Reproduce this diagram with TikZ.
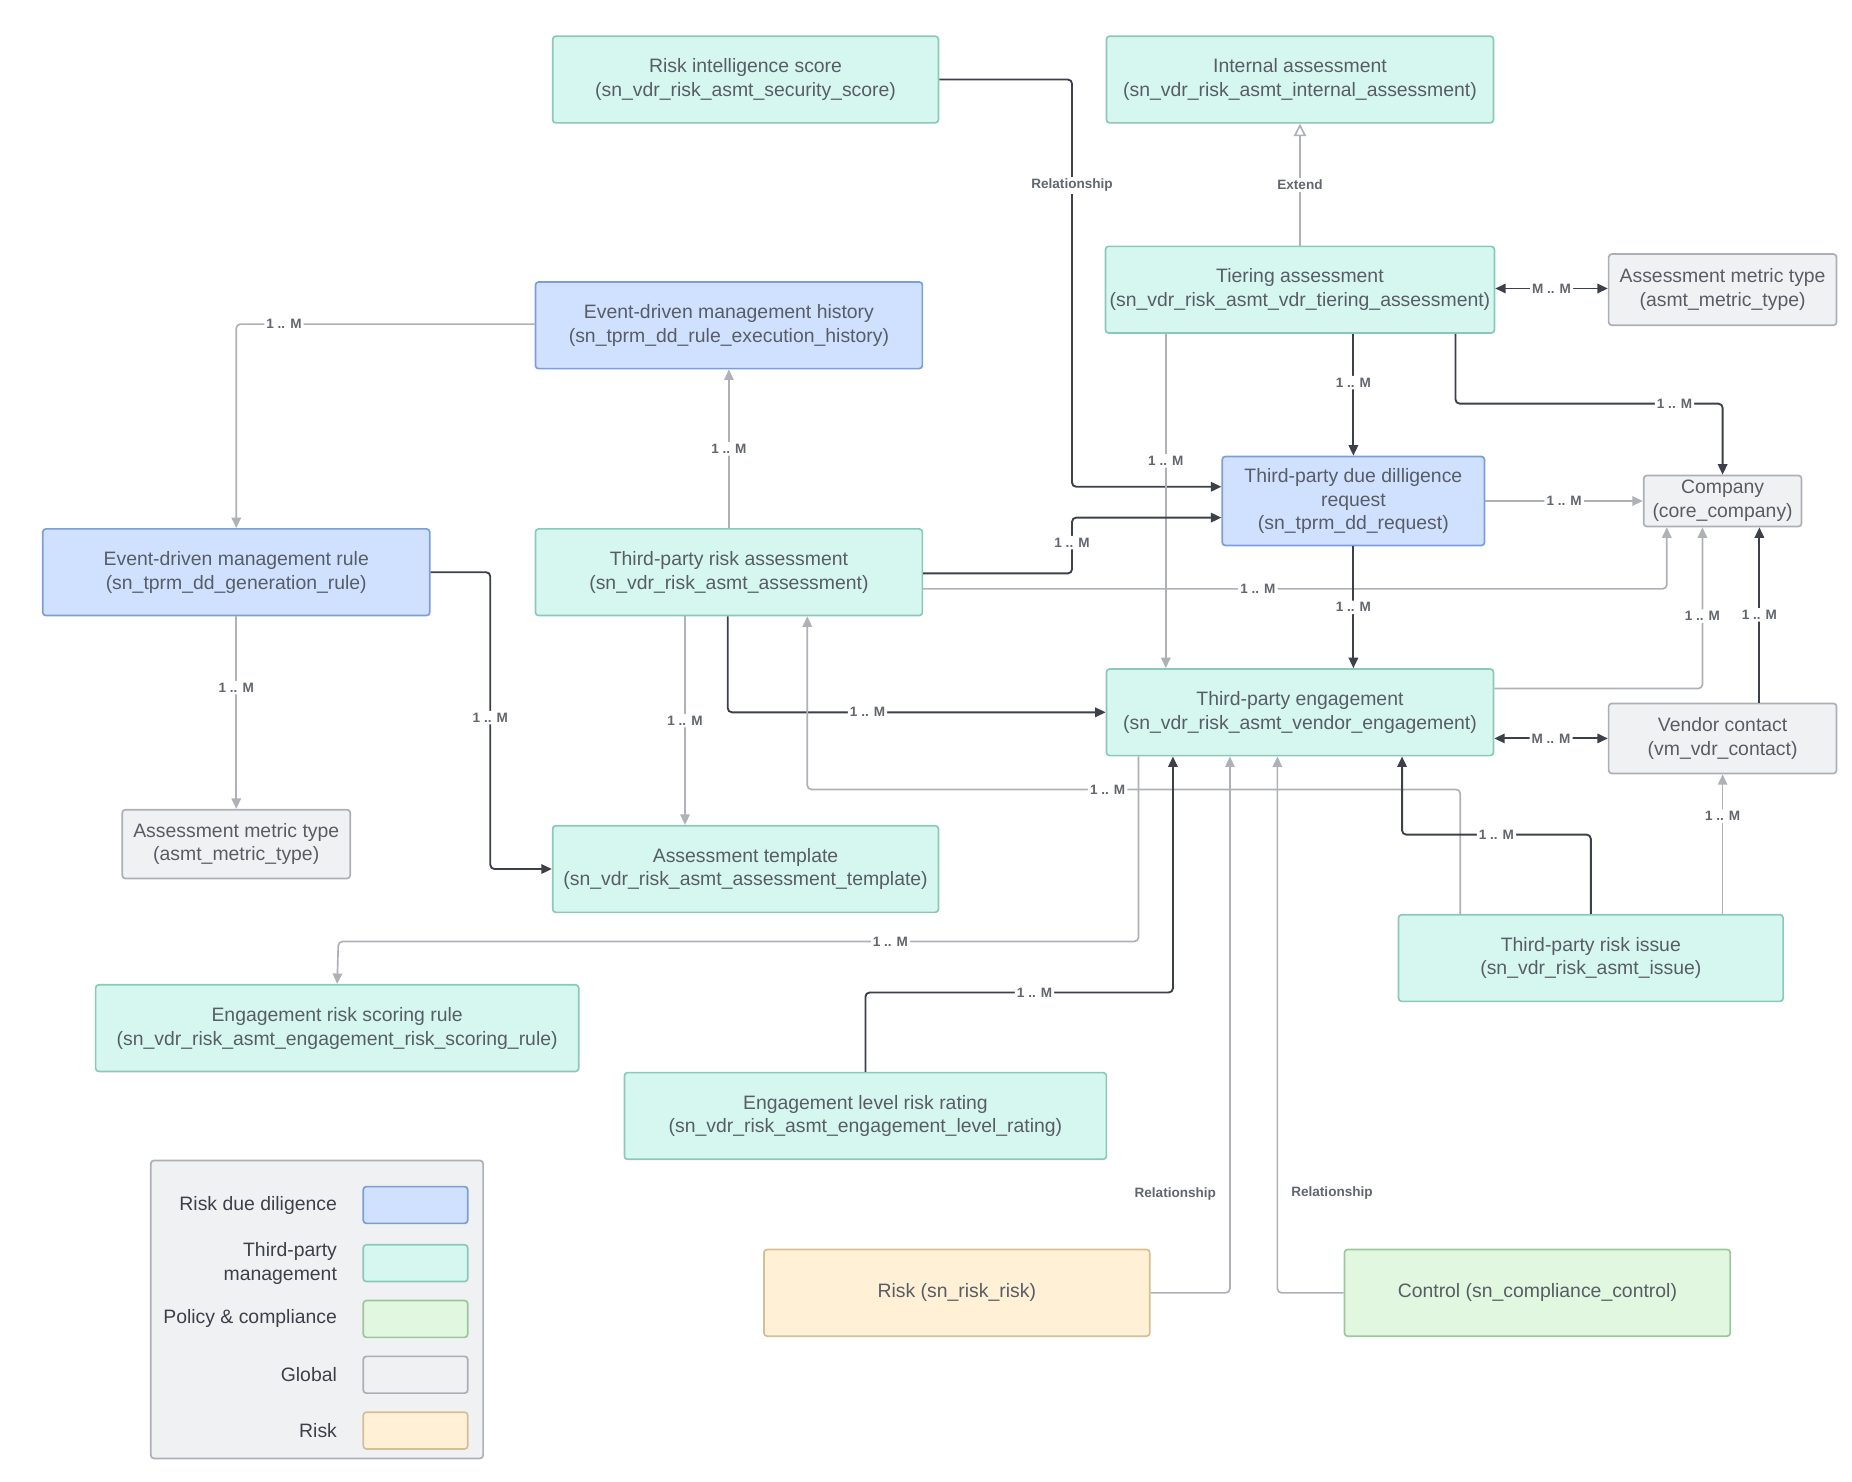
\documentclass[tikz,border=0pt]{standalone}
\usepackage{fontspec}
\setmainfont{Liberation Sans}
\usetikzlibrary{arrows.meta,positioning}
\definecolor{tpmfill}{HTML}{D5F7F0}
\definecolor{tpmdraw}{HTML}{8CC8BA}
\definecolor{rddfill}{HTML}{CFE1FF}
\definecolor{rdddraw}{HTML}{7C9ED6}
\definecolor{glbfill}{HTML}{F0F1F3}
\definecolor{glbdraw}{HTML}{ACAFB5}
\definecolor{rskfill}{HTML}{FFF0D6}
\definecolor{rskdraw}{HTML}{D6BE94}
\definecolor{polfill}{HTML}{E2F7E0}
\definecolor{poldraw}{HTML}{9CC79A}
\definecolor{ink}{HTML}{3B404A}
\definecolor{pale}{HTML}{AEB1B6}
\tikzset{
    table/.style={
           rectangle,
           rounded corners=1.5pt,
           line width=0.8pt,
           align=center,
           text=ink!85,
           font=\fontsize{9.3}{11.4}\selectfont,
           inner sep=2pt,
           },
}
\begin{document}
\begin{tikzpicture}[
  x=0.02cm,y=-0.02cm,
  >={Triangle[length=5pt,width=4.5pt]},
  tpm/.style={table,fill=tpmfill,draw=tpmdraw},
  rdd/.style={table,fill=rddfill,draw=rdddraw},
  glb/.style={table,fill=glbfill,draw=glbdraw},
  rsk/.style={table,fill=rskfill,draw=rskdraw},
  pol/.style={table,fill=polfill,draw=poldraw},
  arr/.style={->,draw=ink,line width=0.9pt,rounded corners=2pt},
  thin/.style={->,draw=pale,line width=0.8pt,rounded corners=2pt},
  lbl/.style={fill=white,inner sep=1pt,text=ink!80,font=\fontsize{6.5}{7}\selectfont\bfseries}]
\useasboundingbox (0,0) rectangle (1560,1248);
% tables
\node[tpm,minimum width=6.5cm,minimum height=1.46cm](riskint) at (628,67){Risk intelligence score\\(sn\_vdr\_risk\_asmt\_security\_score)};
\node[tpm,minimum width=6.52cm,minimum height=1.46cm](internal) at (1095,67){Internal assessment\\(sn\_vdr\_risk\_asmt\_internal\_assessment)};
\node[tpm,minimum width=6.52cm,minimum height=1.46cm](tiering) at (1095,244){Tiering assessment\\(sn\_vdr\_risk\_asmt\_vdr\_tiering\_assessment)};
\node[glb,minimum width=3.84cm,minimum height=1.2cm](metricA) at (1451,244){Assessment metric type\\(asmt\_metric\_type)};
\node[rdd,minimum width=6.52cm,minimum height=1.46cm](history) at (614,274){Event-driven management history\\(sn\_tprm\_dd\_rule\_execution\_history)};
\node[rdd,minimum width=4.42cm,minimum height=1.5cm](request) at (1140,422){Third-party due dilligence\\request\\(sn\_tprm\_dd\_request)};
\node[glb,minimum width=2.66cm,minimum height=0.86cm](company) at (1451,422){Company\\(core\_company)};
\node[rdd,minimum width=6.52cm,minimum height=1.46cm](rule) at (199,482){Event-driven management rule\\(sn\_tprm\_dd\_generation\_rule)};
\node[tpm,minimum width=6.52cm,minimum height=1.46cm](assess) at (614,482){Third-party risk assessment\\(sn\_vdr\_risk\_asmt\_assessment)};
\node[tpm,minimum width=6.52cm,minimum height=1.46cm](engage) at (1095,600){Third-party engagement\\(sn\_vdr\_risk\_asmt\_vendor\_engagement)};
\node[glb,minimum width=3.84cm,minimum height=1.18cm](vendor) at (1451,622){Vendor contact\\(vm\_vdr\_contact)};
\node[glb,minimum width=3.84cm,minimum height=1.16cm](metricB) at (199,711){Assessment metric type\\(asmt\_metric\_type)};
\node[tpm,minimum width=6.5cm,minimum height=1.46cm](template) at (628,732){Assessment template\\(sn\_vdr\_risk\_asmt\_assessment\_template)};
\node[tpm,minimum width=6.48cm,minimum height=1.46cm](issue) at (1340,807){Third-party risk issue\\(sn\_vdr\_risk\_asmt\_issue)};
\node[tpm,minimum width=8.14cm,minimum height=1.46cm](scoring) at (284,866){Engagement risk scoring rule\\(sn\_vdr\_risk\_asmt\_engagement\_risk\_scoring\_rule)};
\node[tpm,minimum width=8.12cm,minimum height=1.46cm](rating) at (729,940){Engagement level risk rating\\(sn\_vdr\_risk\_asmt\_engagement\_level\_rating)};
\node[rsk,minimum width=6.5cm,minimum height=1.46cm](risk) at (806,1089){Risk (sn\_risk\_risk)};
\node[pol,minimum width=6.5cm,minimum height=1.46cm](control) at (1295,1089){Control (sn\_compliance\_control)};
% legend
\node[glb,minimum width=5.6cm,minimum height=5.02cm](legend) at (267,1103){};
\foreach \name/\sty/\y/\txt in {lrdd/rdd/1015/Risk due diligence,ltpm/tpm/1064/Third-party\\management,lpol/pol/1111/Policy \& compliance,lglb/glb/1158/Global,lrsk/rsk/1205/Risk}{
  \node[\sty,minimum width=1.76cm,minimum height=0.62cm](\name) at (350,\y){};
  \node[align=right,anchor=east,text=ink,font=\fontsize{9.3}{11.4}\selectfont] at (290,\y){\txt};
}
% connectors
\draw[arr] (riskint.east) -- (903,67) -- node[lbl,pos=0.26]{Relationship} (903,410) -- (request.west |- 0,410);
\draw[draw=pale,line width=0.8pt,-{Triangle[open,length=6pt,width=6pt]}] (tiering.north) -- node[lbl]{Extend} (internal.south);
\draw[arr,<->] (tiering.east |- 0,243) -- node[lbl]{M .. M} (metricA.west |- 0,243);
\draw[arr] (tiering.south -| 1140,0) -- node[lbl,pos=0.4]{1 .. M} (request.north);
\draw[arr] (tiering.south -| 1226,0) -- (1226,340) -- node[lbl,pos=0.82]{1 .. M} (1451,340) -- (company.north);
\draw[thin] (tiering.south -| 982,0) -- node[lbl,pos=0.38]{1 .. M} (engage.north -| 982,0);
\draw[thin] (history.west |- 0,273) -- node[lbl,pos=0.84]{1 .. M} (199,273) -- (rule.north);
\draw[thin] (assess.north) -- node[lbl]{1 .. M} (history.south);
\draw[arr] (assess.east |- 0,483) -- (903,483) -- node[lbl,pos=0.55]{1 .. M} (903,436) -- (request.west |- 0,436);
\draw[thin] (assess.east |- 0,496) -- node[lbl,pos=0.45]{1 .. M} (1404,496) -- (company.south -| 1404,0);
\draw[thin] (request.east) -- node[lbl]{1 .. M} (company.west);
\draw[arr] (request.south) -- node[lbl]{1 .. M} (engage.north -| 1140,0);
\draw[thin] (rule.south) -- node[lbl,pos=0.37]{1 .. M} (metricB.north);
\draw[arr] (rule.east) -- (413,482) -- node[lbl,pos=0.49]{1 .. M} (413,732) -- (template.west);
\draw[thin] (assess.south -| 577,0) -- node[lbl]{1 .. M} (template.north -| 577,0);
\draw[arr] (assess.south -| 613,0) -- (613,600) -- node[lbl,pos=0.37]{1 .. M} (engage.west);
\draw[thin] (issue.north -| 1230,0) -- (1230,665) -- node[lbl,pos=0.54]{1 .. M} (680,665) -- (assess.south -| 680,0);
\draw[thin] (engage.south -| 959,0) -- (959,793) -- node[lbl,pos=0.31]{1 .. M} (285,793) -- (scoring.north);
\draw[arr] (rating.north) -- (729,836) -- node[lbl,pos=0.55]{1 .. M} (988,836) -- (engage.south -| 988,0);
\draw[thin] (risk.east) -- (1036,1089) -- (engage.south -| 1036,0);
\node[lbl] at (990,1006){Relationship};
\draw[thin] (control.west) -- (1076,1089) -- (engage.south -| 1076,0);
\node[lbl] at (1122,1005){Relationship};
\draw[arr] (issue.north -| 1340,0) -- (1340,703) -- node[lbl,pos=0.5]{1 .. M} (1181,703) -- (engage.south -| 1181,0);
\draw[thin] (engage.east |- 0,580) -- (1434,580) -- node[lbl,pos=0.45]{1 .. M} (company.south -| 1434,0);
\draw[arr] (vendor.north -| 1482,0) -- node[lbl,pos=0.5]{1 .. M} (company.south -| 1482,0);
\draw[arr,<->] (engage.east |- 0,622) -- node[lbl]{M .. M} (vendor.west |- 0,622);
\draw[thin] (issue.north -| 1451,0) -- node[lbl,pos=0.7]{1 .. M} (vendor.south -| 1451,0);
\end{tikzpicture}
\end{document}
